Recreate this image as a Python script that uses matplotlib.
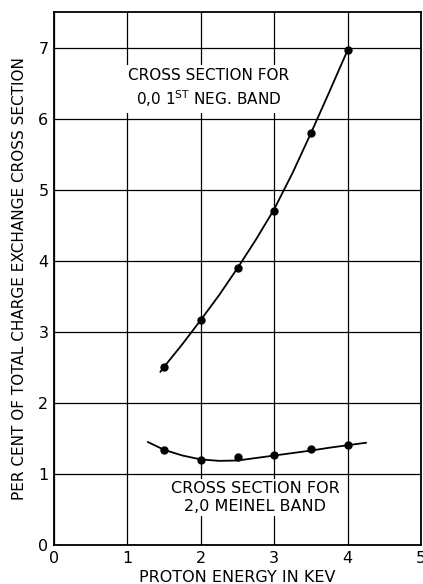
import matplotlib.pyplot as plt

plt.rcParams["font.family"] = ["DejaVu Sans"]

# measured points
energy = [1.5, 2.0, 2.5, 3.0, 3.5, 4.0]
neg_band = [2.51, 3.17, 3.90, 4.71, 5.80, 6.97]
meinel = [1.34, 1.20, 1.235, 1.27, 1.35, 1.41]

# hand-drawn smooth curves
neg_curve_x = [1.45, 1.5, 1.75, 2.0, 2.25, 2.5, 2.75, 3.0, 3.25, 3.5, 3.75, 4.0]
neg_curve_y = [2.44, 2.51, 2.83, 3.17, 3.52, 3.90, 4.30, 4.73, 5.24, 5.80, 6.38, 6.97]
mei_curve_x = [1.28, 1.4, 1.5, 1.75, 2.0, 2.25, 2.5, 2.75, 3.0, 3.25, 3.5, 3.75, 4.0, 4.25]
mei_curve_y = [1.45, 1.39, 1.34, 1.26, 1.205, 1.185, 1.19, 1.225, 1.26, 1.295, 1.33, 1.37, 1.405, 1.44]

xticks = [0, 1, 2, 3, 4, 5]
yticks = [0, 1, 2, 3, 4, 5, 6, 7]

fig = plt.figure(figsize=(4.23, 5.84), dpi=100)
ax = fig.add_axes([0.1277, 0.0668, 0.8676, 0.9118])
ax.set_xlim(0, 5)
ax.set_ylim(0, 7.5)
ax.set_xticks(xticks)
ax.set_yticks(yticks)
ax.tick_params(length=0, labelsize=11.5, pad=4)
ax.grid(True, color="black", lw=0.9, zorder=0)
ax.set_axisbelow(True)
for s in ax.spines.values():
    s.set_linewidth(1.3)

ax.plot(neg_curve_x, neg_curve_y, color="black", lw=1.3, zorder=3)
ax.plot(mei_curve_x, mei_curve_y, color="black", lw=1.3, zorder=3)
ax.plot(energy, neg_band, "o", color="black", ms=5, zorder=4)
ax.plot(energy, meinel, "o", color="black", ms=5, zorder=4)

ax.text(2.11, 6.43, "CROSS SECTION FOR\n0,0 1$^{\\mathrm{ST}}$ NEG. BAND",
        ha="center", va="center", fontsize=11, linespacing=1.3,
        bbox=dict(fc="white", ec="none", pad=3), zorder=2)
ax.text(2.74, 0.67, "CROSS SECTION FOR\n2,0 MEINEL BAND",
        ha="center", va="center", fontsize=11.5, linespacing=1.3,
        bbox=dict(fc="white", ec="none", pad=1.5), zorder=2)

ax.set_xlabel("PROTON ENERGY IN KEV", fontsize=11.5, labelpad=3)
ax.set_ylabel("PER CENT OF TOTAL CHARGE EXCHANGE CROSS SECTION", fontsize=11, labelpad=8)

fig.savefig("out.png", dpi=100)
